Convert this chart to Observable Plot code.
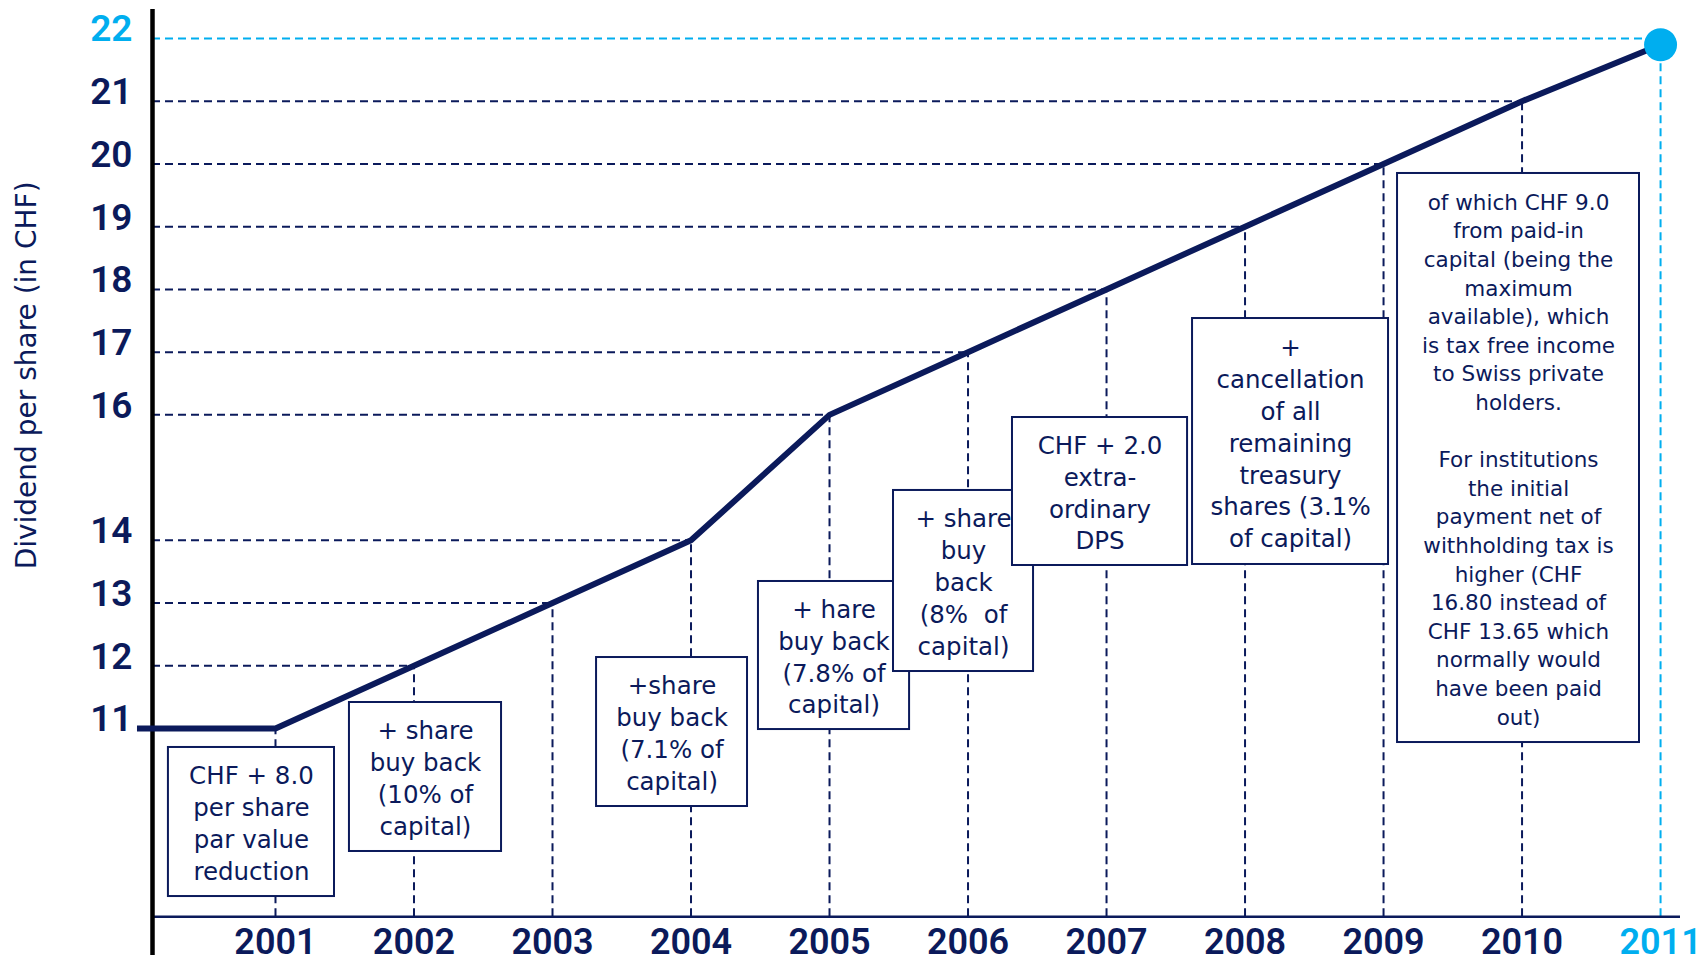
<!DOCTYPE html>
<html>
<head>
<meta charset="utf-8">
<script src="https://cdn.jsdelivr.net/npm/d3@7"></script>
<script src="https://cdn.jsdelivr.net/npm/@observablehq/plot@0.6"></script>
<style>
  html, body { margin: 0; padding: 0; background: #ffffff; }
  #chart svg { display: block; }
  #chart svg text { white-space: pre; }
</style>
</head>
<body>
<div id="chart"></div>
<script>
// ---- data ----
const years     = [2000, 2001, 2002, 2003, 2004, 2005, 2006, 2007, 2008, 2009, 2010, 2011];
const dividends = [11,   11,   12,   13,   14,   16,   17,   18,   19,   20,   21,   21.9];

const guideYears  = [2001, 2002, 2003, 2004, 2005, 2006, 2007, 2008, 2009, 2010, 2011];
const guideLevels = [11,   12,   13,   14,   16,   17,   18,   19,   20,   21,   22];

const yTickValues = [11, 12, 13, 14, 16, 17, 18, 19, 20, 21, 22];
const xTickValues = [2001, 2002, 2003, 2004, 2005, 2006, 2007, 2008, 2009, 2010, 2011];
const highlightYear = 2011;
const highlightLevel = 22;
const axisBaseline = 8;

const yTitle = "Dividend per share (in CHF)";

const noteTexts = [
  "CHF + 8.0\nper share\npar value\nreduction",
  "+ share\nbuy back\n(10% of\ncapital)",
  "+share\nbuy back\n(7.1% of\ncapital)",
  "+ hare\nbuy back\n(7.8% of\ncapital)",
  "+ share\nbuy\nback\n(8%  of\ncapital)",
  "CHF + 2.0\nextra-\nordinary\nDPS",
  "+\ncancellation\nof all\nremaining\ntreasury\nshares (3.1%\nof capital)",
  "of which CHF 9.0\nfrom paid-in\ncapital (being the\nmaximum\navailable), which\nis tax free income\nto Swiss private\nholders.\n\nFor institutions\nthe initial\npayment net of\nwithholding tax is\nhigher (CHF\n16.80 instead of\nCHF 13.65 which\nnormally would\nhave been paid\nout)"
];
// annotation box placement, in data units (year, CHF)
const noteX1 = [2000.227, 2001.534, 2003.318, 2004.487, 2005.462, 2006.321, 2007.621, 2009.101];
const noteX2 = [2001.426, 2002.632, 2004.408, 2005.578, 2006.473, 2007.585, 2009.036, 2010.848];
const noteY1 = [8.322,    9.040,    9.757,    10.984,   11.909,   13.599,   13.615,   10.777];
const noteY2 = [10.698,   11.415,   12.132,   13.344,   14.795,   15.958,   17.536,   19.848];
const noteSmall = [false, false, false, false, false, false, false, true];

// ---- styles ----
const navy = "#0b1a5b";
const cyan = "#00aeef";
const boxFont = "DejaVu Sans, Verdana, sans-serif";
const tickFont = "Roboto, Lato, sans-serif";

const xDomain = [2000.112, 2011.144];
const yDomain = [7.382, 22.462];

const line = years.map((y, i) => ({year: y, value: dividends[i]}));
const guides = guideYears.map((y, i) => ({year: y, level: guideLevels[i], hi: y === highlightYear}));
const notes = noteTexts.map((t, i) => ({
  text: t, x1: noteX1[i], x2: noteX2[i], y1: noteY1[i], y2: noteY2[i],
  cx: (noteX1[i] + noteX2[i]) / 2, cy: (noteY1[i] + noteY2[i]) / 2, small: noteSmall[i]
}));

const dash = "8,5";

const noteMarks = notes.flatMap(n => [
  Plot.rect([n], {x1: "x1", x2: "x2", y1: "y1", y2: "y2", fill: "white", stroke: navy, strokeWidth: 2}),
  Plot.text([n], {
    x: "cx", y: "cy", text: "text", fill: navy,
    fontFamily: boxFont,
    fontSize: n.small ? 21.5 : 24.5,
    lineHeight: n.small ? 1.33 : 1.3,
    textAnchor: "middle", lineAnchor: "middle"
  })
]);

const chart = Plot.plot({
  width: 1703,
  height: 963,
  marginLeft: 152,
  marginRight: 23,
  marginTop: 9,
  marginBottom: 8,
  x: {domain: xDomain, axis: null},
  y: {domain: yDomain, axis: null},
  style: {background: "white"},
  marks: [
    // dashed guides: horizontal to each point, vertical from baseline
    Plot.ruleY(guides, {y: "level", x1: xDomain[0], x2: "year",
      stroke: d => d.hi ? cyan : navy, strokeWidth: 2, strokeDasharray: dash}),
    Plot.ruleX(guides, {x: "year", y1: axisBaseline, y2: "level",
      stroke: d => d.hi ? cyan : navy, strokeWidth: 2, strokeDasharray: dash}),
    // axes lines
    Plot.ruleY([axisBaseline], {stroke: navy, strokeWidth: 2.5}),
    Plot.ruleX([xDomain[0]], {stroke: "black", strokeWidth: 4.5}),
    // annotation boxes
    ...noteMarks,
    // main line
    Plot.line(line, {x: "year", y: "value", stroke: navy, strokeWidth: 6,
      strokeLinejoin: "miter", strokeLinecap: "butt"}),
    Plot.dot([line[line.length - 1]], {x: "year", y: "value", r: 16.5, fill: cyan, stroke: "none"}),
    // y tick labels
    Plot.text(yTickValues, {y: d => d, frameAnchor: "left", dx: -20, dy: -9, text: d => String(d),
      textAnchor: "end", lineAnchor: "middle", fontFamily: tickFont, fontSize: 37, fontWeight: 600,
      fill: d => d === highlightLevel ? cyan : navy}),
    // x tick labels
    Plot.text(xTickValues, {x: d => d, frameAnchor: "bottom", dy: -13, text: d => String(d),
      textAnchor: "middle", lineAnchor: "middle", fontFamily: tickFont, fontSize: 36, fontWeight: 600,
      fill: d => d === highlightYear ? cyan : navy}),
    // y title
    Plot.text([yTitle], {y: 16.63, frameAnchor: "left", dx: -125, rotate: -90, text: d => d,
      textAnchor: "middle", lineAnchor: "middle",
      fontFamily: boxFont, fontSize: 28, fill: navy})
  ]
});

document.getElementById("chart").appendChild(chart);
</script>
</body>
</html>
